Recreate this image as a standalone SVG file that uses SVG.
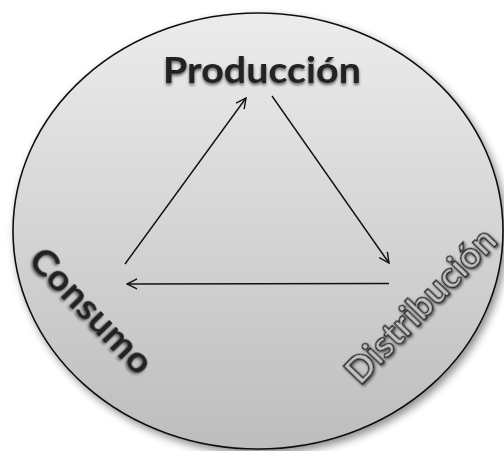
<svg xmlns="http://www.w3.org/2000/svg" width="504" height="451" viewBox="0 0 504 451">
<style>
.lbl{font-family:Lato,"Noto Sans","DejaVu Sans",sans-serif;font-weight:700;font-size:36px;text-anchor:middle}
.conn{stroke:#111;stroke-width:1.4;fill:none;marker-end:url(#ah)}
</style>
<defs>
<linearGradient id="g" x1="0" y1="0" x2="0" y2="1">
<stop offset="0" stop-color="#ececec"/>
<stop offset="1" stop-color="#bdbdbd"/>
</linearGradient>
<filter id="sh" x="-10%" y="-10%" width="130%" height="130%">
<feGaussianBlur in="SourceAlpha" stdDeviation="4"/>
<feOffset dx="3" dy="4" result="b"/>
<feComponentTransfer><feFuncA type="linear" slope="0.45"/></feComponentTransfer>
<feMerge><feMergeNode/><feMergeNode in="SourceGraphic"/></feMerge>
</filter>
<filter id="ts" x="-10%" y="-30%" width="120%" height="160%">
<feGaussianBlur in="SourceAlpha" stdDeviation="1.5"/>
<feOffset dx="0" dy="2"/>
<feComponentTransfer><feFuncA type="linear" slope="0.6"/></feComponentTransfer>
<feMerge><feMergeNode/><feMergeNode in="SourceGraphic"/></feMerge>
</filter>
<marker id="ah" viewBox="0 0 12 12" refX="11" refY="6" markerWidth="12" markerHeight="12" markerUnits="userSpaceOnUse" orient="auto">
<path d="M1,1 L11,6 L1,11" fill="none" stroke="#111" stroke-width="1.4"/>
</marker>
</defs>
<g id="circle">
<ellipse cx="258" cy="231" rx="245" ry="218" fill="url(#g)" stroke="#111" stroke-width="1.6" filter="url(#sh)"/>
</g>
<g id="connectors">
<line class="conn" x1="125" y1="264" x2="246" y2="98"/>
<line class="conn" x1="272" y1="96" x2="389" y2="263"/>
<line class="conn" x1="389" y1="283.5" x2="127" y2="284"/>
</g>
<g id="produccion">
<text class="lbl" x="262" y="83" textLength="198" lengthAdjust="spacingAndGlyphs" fill="#222" filter="url(#ts)">Producción</text>
</g>
<g id="consumo">
<text class="lbl" transform="translate(91,311) rotate(46)" x="0" y="12" textLength="160" lengthAdjust="spacingAndGlyphs" fill="#222" filter="url(#ts)">Consumo</text>
</g>
<g id="distribucion">
<text class="lbl" transform="translate(421,306) rotate(-46)" x="0" y="12" textLength="200" lengthAdjust="spacingAndGlyphs" fill="#c4c4c4" stroke="#222" stroke-width="1.3" filter="url(#ts)">Distribución</text>
</g>
</svg>
